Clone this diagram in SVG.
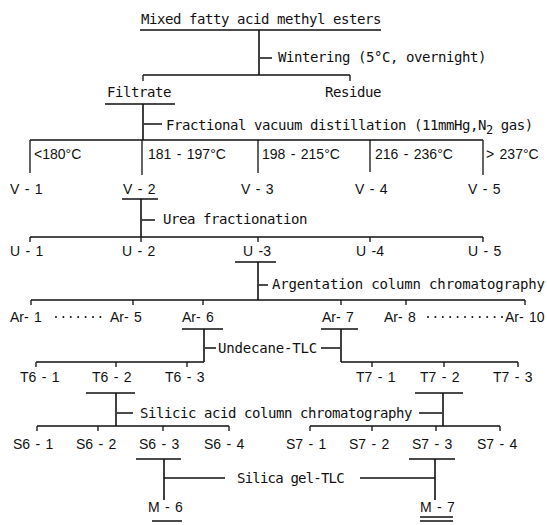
<svg xmlns="http://www.w3.org/2000/svg" width="547" height="525" viewBox="0 0 547 525">
<style>
.m{font-family:"DejaVu Sans Mono","Liberation Mono",monospace;font-size:14px;letter-spacing:-0.43px;fill:#111}
.s{font-family:"Liberation Sans",Arial,sans-serif;font-size:14px;word-spacing:1.5px;fill:#111}
.ln{stroke:#111;stroke-width:1.6;fill:none}
.tk{stroke:#111;stroke-width:1.3;fill:none}
.dt{stroke:#111;stroke-width:2;stroke-linecap:round;stroke-dasharray:0 7.4;fill:none}
</style>
<rect width="547" height="525" fill="#fff"/>
<g id="connectors">
<path class="ln" d="M140,30H381 M259,30V75 M260,58H272 M143,75H350"/>
<path class="tk" d="M143,75V81 M350,75V81"/>
<path class="ln" d="M105,104H175 M143,104V140 M144,124H162 M30,140H483"/>
<path class="tk" d="M30,140V173 M142,140V175 M258,140V173 M370,140V172 M483,140V175"/>
<path class="ln" d="M122,199H158 M141,199V237 M142,220H155 M30,237H483"/>
<path class="tk" d="M30,237V242 M141,237V242 M258,237V242 M370,237V242 M483,237V242"/>
<path class="ln" d="M235,262H276 M258,262V300 M259,285H268 M31,300H525"/>
<path class="tk" d="M31,300V305 M133,300V305 M203,300V305 M341,300V305 M406,300V305 M525,300V305"/>
<path class="dt" d="M56,317H106 M428,317H503"/>
<path class="ln" d="M182,329H223 M321,329H358 M204,329V362 M36,362H204 M205,348H216 M341,329V362 M341,362H518 M321,348H340"/>
<path class="tk" d="M36,362V367 M116,362V367 M187,362V367 M372,362V367 M444,362V367 M518,362V367"/>
<path class="ln" d="M86,393H135 M415,393H463 M116,393V426 M37,426H229 M117,413H133 M443,393V426 M310,426H500 M419,413H442"/>
<path class="tk" d="M37,426V431 M98,426V431 M163,426V431 M229,426V431 M310,426V431 M372,426V431 M436,426V431 M500,426V431"/>
<path class="ln" d="M136,459H181 M409,459H455 M164,459V500 M164,478H225 M435,459V500 M360,478H435"/>
<path class="ln" d="M152,521H182 M420,517H453 M420,521H453"/>
</g>
<g id="title"><text class="m" x="141" y="24">Mixed fatty acid methyl esters</text></g>
<g id="wintering"><text class="m" x="278" y="62">Wintering (5°C, overnight)</text></g>
<g id="filtrate"><text class="m" x="107" y="97">Filtrate</text></g>
<g id="residue"><text class="m" x="325" y="97">Residue</text></g>
<g id="fractional"><text class="m" x="166" y="130">Fractional vacuum distillation (11mmHg,N<tspan dy="4" font-size="12">2</tspan><tspan dy="-4"> gas)</tspan></text></g>
<g id="temps" class="s">
<text class="s" x="34" y="159">&lt;180°C</text>
<text class="s" x="148" y="159">181 - 197°C</text>
<text class="s" x="262" y="159">198 - 215°C</text>
<text class="s" x="375" y="159">216 - 236°C</text>
<text class="s" x="486" y="159">&gt; 237°C</text>
</g>
<g id="V1"><text class="s" x="10" y="194">V - 1</text></g>
<g id="V2"><text class="s" x="123" y="194">V - 2</text></g>
<g id="V3"><text class="s" x="241" y="194">V - 3</text></g>
<g id="V4"><text class="s" x="355" y="194">V - 4</text></g>
<g id="V5"><text class="s" x="468" y="194">V - 5</text></g>
<g id="urea"><text class="m" x="163" y="224">Urea fractionation</text></g>
<g id="U1"><text class="s" x="10" y="256">U - 1</text></g>
<g id="U2"><text class="s" x="122" y="256">U - 2</text></g>
<g id="U3"><text class="s" x="243" y="256">U -3</text></g>
<g id="U4"><text class="s" x="356" y="256">U -4</text></g>
<g id="U5"><text class="s" x="468" y="256">U - 5</text></g>
<g id="argentation"><text class="m" x="272" y="289" style="letter-spacing:-0.16px">Argentation column chromatography</text></g>
<g id="Ar1"><text class="s" x="10" y="322">Ar- 1</text></g>
<g id="Ar5"><text class="s" x="110" y="322">Ar- 5</text></g>
<g id="Ar6"><text class="s" x="182" y="322">Ar- 6</text></g>
<g id="Ar7"><text class="s" x="322" y="322">Ar- 7</text></g>
<g id="Ar8"><text class="s" x="384" y="322">Ar- 8</text></g>
<g id="Ar10"><text class="s" x="505" y="322">Ar- 10</text></g>
<g id="undecane"><text class="m" x="218" y="353" style="letter-spacing:-0.18px">Undecane-TLC</text></g>
<g id="T61"><text class="s" x="20" y="382">T6 - 1</text></g>
<g id="T62"><text class="s" x="92" y="382">T6 - 2</text></g>
<g id="T63"><text class="s" x="165" y="382">T6 - 3</text></g>
<g id="T71"><text class="s" x="356" y="382">T7 - 1</text></g>
<g id="T72"><text class="s" x="420" y="382">T7 - 2</text></g>
<g id="T73"><text class="s" x="493" y="382">T7 - 3</text></g>
<g id="silicic"><text class="m" x="140" y="418">Silicic acid column chromatography</text></g>
<g id="S61"><text class="s" x="13" y="449">S6 - 1</text></g>
<g id="S62"><text class="s" x="76" y="449">S6 - 2</text></g>
<g id="S63"><text class="s" x="139" y="449">S6 - 3</text></g>
<g id="S64"><text class="s" x="204" y="449">S6 - 4</text></g>
<g id="S71"><text class="s" x="286" y="449">S7 - 1</text></g>
<g id="S72"><text class="s" x="349" y="449">S7 - 2</text></g>
<g id="S73"><text class="s" x="412" y="449">S7 - 3</text></g>
<g id="S74"><text class="s" x="477" y="449">S7 - 4</text></g>
<g id="silicagel"><text class="m" x="237" y="483" style="letter-spacing:-0.8px">Silica gel-TLC</text></g>
<g id="M6"><text class="s" x="148" y="512">M - 6</text></g>
<g id="M7"><text class="s" x="420" y="512">M - 7</text></g>
</svg>
